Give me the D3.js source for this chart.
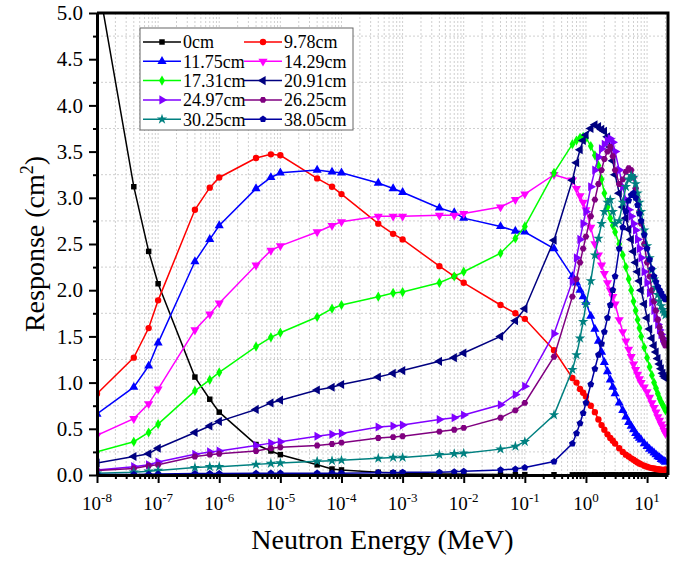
<!DOCTYPE html>
<html>
<head>
<meta charset="utf-8">
<script src="https://cdn.jsdelivr.net/npm/d3@7"></script>
</head>
<body style="margin:0;background:#fff">
<svg id="chart"></svg>
<script>
// energies (MeV) shared by every curve
const energy = [1e-8, 4e-8, 7e-8, 1e-7, 4e-7, 7e-7, 1e-6, 4e-6, 7e-6, 1e-5, 4e-5, 7e-5,
  1e-4, 4e-4, 7e-4, 1e-3, 4e-3, 7e-3, 1e-2, 4e-2, 7e-2, 1e-1, 0.3, 0.6,
  0.7, 0.8, 0.9, 1, 1.2, 1.4, 1.6, 1.8, 2, 2.25, 2.5, 2.75, 3, 3.5, 4, 4.5, 5, 5.5,
  6, 6.5, 7, 7.5, 8, 9, 10, 11, 12, 13, 14, 15, 16, 17, 18, 19, 20];

const r0cm = [5.4, 3.12, 2.42, 2.07, 1.06, 0.82, 0.68, 0.33, 0.26, 0.22, 0.11, 0.065,
  0.055, 0.03, 0.025, 0.02, 0.012, 0.01, 0.008, 0.005, 0.004, 0.004, 0.003, 0.002,
  0.002, 0.002, 0.002, 0.002, 0.002, 0.002, 0.002, 0.002, 0.002, 0.002, 0.002, 0.002,
  0.002, 0.002, 0.002, 0.002, 0.002, 0.002, 0.002, 0.002, 0.002, 0.002, 0.002, 0.002,
  0.002, 0.002, 0.002, 0.002, 0.002, 0.002, 0.002, 0.002, 0.002, 0.002, 0.002];
const r978 = [0.88, 1.27, 1.59, 1.89, 2.87, 3.11, 3.22, 3.43, 3.47, 3.46, 3.21, 3.12,
  3.04, 2.72, 2.61, 2.55, 2.26, 2.15, 2.08, 1.84, 1.75, 1.69, 1.35, 1.05,
  1.0, 0.93, 0.89, 0.85, 0.75, 0.68, 0.6, 0.54, 0.49, 0.44, 0.4, 0.37, 0.34, 0.29,
  0.25, 0.22, 0.2, 0.18, 0.165, 0.15, 0.135, 0.125, 0.115, 0.1, 0.09, 0.08, 0.075,
  0.07, 0.065, 0.062, 0.06, 0.058, 0.055, 0.055, 0.06];
const r1175 = [0.66, 0.95, 1.18, 1.43, 2.31, 2.55, 2.70, 3.10, 3.22, 3.27, 3.30, 3.28,
  3.27, 3.16, 3.10, 3.06, 2.89, 2.84, 2.78, 2.69, 2.64, 2.63, 2.45, 2.15,
  2.08, 2.0, 1.93, 1.87, 1.72, 1.58, 1.45, 1.33, 1.22, 1.12, 1.03, 0.95, 0.88, 0.78,
  0.7, 0.63, 0.57, 0.53, 0.49, 0.45, 0.42, 0.4, 0.38, 0.34, 0.31, 0.28, 0.26, 0.24,
  0.22, 0.2, 0.19, 0.17, 0.16, 0.15, 0.14];
const r1429 = [0.43, 0.61, 0.77, 0.93, 1.57, 1.74, 1.86, 2.27, 2.43, 2.48, 2.63, 2.70,
  2.74, 2.80, 2.80, 2.80, 2.81, 2.81, 2.83, 2.90, 2.98, 3.04, 3.25, 3.19,
  3.1, 3.02, 2.95, 2.87, 2.68, 2.5, 2.38, 2.27, 2.18, 2.08, 2.0, 1.93, 1.85, 1.68,
  1.55, 1.45, 1.36, 1.28, 1.2, 1.14, 1.09, 1.04, 1.0, 0.95, 0.9, 0.84, 0.78, 0.73,
  0.68, 0.63, 0.59, 0.55, 0.52, 0.48, 0.45];
const r1731 = [0.25, 0.36, 0.46, 0.55, 0.91, 1.03, 1.11, 1.39, 1.49, 1.54, 1.71, 1.80,
  1.84, 1.93, 1.97, 1.98, 2.08, 2.15, 2.20, 2.40, 2.56, 2.69, 3.27, 3.58,
  3.62, 3.65, 3.66, 3.65, 3.56, 3.46, 3.35, 3.2, 3.05, 2.9, 2.78, 2.7, 2.63, 2.5,
  2.38, 2.25, 2.12, 2.0, 1.88, 1.78, 1.68, 1.59, 1.5, 1.38, 1.27, 1.17, 1.08, 1.0,
  0.94, 0.88, 0.83, 0.79, 0.76, 0.73, 0.70];
const r2091 = [0.13, 0.2, 0.23, 0.29, 0.46, 0.53, 0.58, 0.71, 0.78, 0.81, 0.92, 0.95,
  0.98, 1.06, 1.10, 1.13, 1.23, 1.27, 1.32, 1.50, 1.67, 1.80, 2.54, 3.19,
  3.38, 3.52, 3.62, 3.68, 3.75, 3.79, 3.77, 3.74, 3.72, 3.66, 3.55, 3.4, 3.25, 3.05,
  2.9, 2.78, 2.66, 2.55, 2.42, 2.3, 2.2, 2.1, 2.0, 1.85, 1.7, 1.58, 1.48, 1.4,
  1.33, 1.26, 1.2, 1.15, 1.1, 1.07, 1.05];
const r2497 = [0.055, 0.09, 0.11, 0.14, 0.225, 0.25, 0.26, 0.32, 0.345, 0.36, 0.42, 0.44,
  0.45, 0.52, 0.53, 0.54, 0.60, 0.62, 0.65, 0.76, 0.87, 0.96, 1.53, 2.1,
  2.35, 2.55, 2.72, 2.85, 3.12, 3.3, 3.44, 3.53, 3.58, 3.62, 3.64, 3.6, 3.5, 3.3,
  3.12, 2.98, 2.87, 2.8, 2.72, 2.65, 2.55, 2.45, 2.35, 2.2, 2.08, 1.97, 1.87, 1.78,
  1.7, 1.63, 1.57, 1.52, 1.48, 1.45, 1.42];
const r2625 = [0.05, 0.07, 0.1, 0.11, 0.2, 0.22, 0.23, 0.26, 0.29, 0.30, 0.32, 0.335,
  0.35, 0.40, 0.41, 0.42, 0.47, 0.49, 0.51, 0.62, 0.70, 0.78, 1.28, 1.93,
  2.12, 2.3, 2.45, 2.58, 2.8, 2.98, 3.15, 3.3, 3.42, 3.5, 3.55, 3.45, 3.3, 3.15,
  3.2, 3.28, 3.32, 3.3, 3.22, 3.1, 2.98, 2.85, 2.72, 2.5, 2.3, 2.15, 2.0, 1.88,
  1.78, 1.68, 1.6, 1.53, 1.48, 1.43, 1.4];
const r3025 = [0.02, 0.03, 0.04, 0.05, 0.08, 0.09, 0.09, 0.115, 0.125, 0.13, 0.15, 0.155,
  0.16, 0.18, 0.19, 0.19, 0.22, 0.23, 0.235, 0.28, 0.31, 0.36, 0.65, 1.14,
  1.3, 1.48, 1.66, 1.85, 2.1, 2.38, 2.56, 2.72, 2.85, 2.95, 2.98, 2.85, 2.72, 2.75,
  2.95, 3.12, 3.2, 3.24, 3.22, 3.15, 3.05, 2.95, 2.85, 2.65, 2.48, 2.35, 2.22, 2.12,
  2.03, 1.95, 1.88, 1.83, 1.79, 1.76, 1.73];
const r3805 = [0.005, 0.006, 0.008, 0.01, 0.015, 0.015, 0.015, 0.018, 0.02, 0.02, 0.02, 0.02,
  0.02, 0.025, 0.025, 0.03, 0.03, 0.035, 0.04, 0.055, 0.065, 0.08, 0.145, 0.34,
  0.45, 0.56, 0.67, 0.78, 0.98, 1.15, 1.3, 1.42, 1.55, 1.7, 1.84, 2.0, 2.15, 2.45,
  2.68, 2.85, 2.97, 3.03, 3.05, 3.0, 2.92, 2.83, 2.75, 2.6, 2.45, 2.33, 2.23, 2.15,
  2.09, 2.04, 2.0, 1.97, 1.94, 1.92, 1.9];

const names = ["0cm", "9.78cm", "11.75cm", "14.29cm", "17.31cm", "20.91cm",
  "24.97cm", "26.25cm", "30.25cm", "38.05cm"];
const values = [r0cm, r978, r1175, r1429, r1731, r2091, r2497, r2625, r3025, r3805];

const yTicks = [0, 0.5, 1, 1.5, 2, 2.5, 3, 3.5, 4, 4.5, 5];
const xDecades = [-8, -7, -6, -5, -4, -3, -2, -1, 0, 1];

const colors = ["#000000", "#ff0000", "#0000ff", "#ff00ff", "#00ff00", "#000080",
  "#8000ff", "#800080", "#008080", "#0000a0"];
const markers = ["square", "circle", "up", "down", "diamond", "left", "right", "hexagon", "star", "pentagon"];

const font = "Liberation Serif";
const width = 678, height = 562;
const margin = {left: 97, right: 10, top: 13, bottom: 87};

const svg = d3.select("#chart").attr("width", width).attr("height", height);

const x = d3.scaleLog().domain([1e-8, 22]).range([margin.left, width - margin.right]);
const y = d3.scaleLinear().domain([0, 5]).range([height - margin.bottom, margin.top]);

function polygon(n, r, rot) {
  let pts = [];
  for (let i = 0; i < n; i++) {
    let a = rot + i * 2 * Math.PI / n;
    pts.push([r * Math.cos(a), r * Math.sin(a)]);
  }
  return "M" + pts.map(p => p.join(",")).join("L") + "Z";
}

function markerPath(m) {
  if (m == "square") return d3.symbol(d3.symbolSquare, 30)();
  if (m == "circle") return d3.symbol(d3.symbolCircle, 32)();
  if (m == "diamond") return d3.symbol(d3.symbolDiamond, 30)();
  if (m == "star") return d3.symbol(d3.symbolStar, 34)();
  if (m == "hexagon") return polygon(6, 3.4, 0);
  if (m == "pentagon") return polygon(5, 3.6, -Math.PI / 2);
  return d3.symbol(d3.symbolTriangle, 36)();
}
function markerRotate(m) {
  return {down: 180, left: -90, right: 90}[m] || 0;
}

// grid
const minorX = [];
xDecades.forEach(d => {
  for (let k = 1; k < 10; k++) {
    let v = k * Math.pow(10, d);
    if (v <= 22) minorX.push(v);
  }
});
const gridY = [0.25, 0.75, 1.25, 1.75, 2.25, 2.75, 3.25, 3.75, 4.25, 4.75];

svg.append("g").selectAll("line")
  .data(minorX.slice(1))
  .enter().append("line")
  .attr("x1", d => x(d)).attr("x2", d => x(d))
  .attr("y1", y(0)).attr("y2", y(5))
  .attr("stroke", "#cfcfcf").attr("stroke-width", 1)
  .attr("stroke-dasharray", "2,2");

svg.append("g").selectAll("line")
  .data(gridY)
  .enter().append("line")
  .attr("x1", x(1e-8)).attr("x2", x(22))
  .attr("y1", d => y(d)).attr("y2", d => y(d))
  .attr("stroke", "#cfcfcf").attr("stroke-width", 1)
  .attr("stroke-dasharray", "2,2");

// curves
svg.append("clipPath").attr("id", "clip")
  .append("rect")
  .attr("x", margin.left).attr("y", margin.top)
  .attr("width", width - margin.left - margin.right)
  .attr("height", height - margin.top - margin.bottom);

const line = d3.line()
  .x(d => x(d[0]))
  .y(d => y(d[1]));

const plot = svg.append("g").attr("clip-path", "url(#clip)");

values.forEach((vals, i) => {
  let pts = energy.map((e, j) => [e, vals[j]]);
  let g = plot.append("g");
  g.append("path")
    .datum(pts)
    .attr("d", line)
    .attr("fill", "none")
    .attr("stroke", colors[i])
    .attr("stroke-width", 1.5);
  g.selectAll("path.pt")
    .data(pts)
    .enter().append("path")
    .attr("class", "pt")
    .attr("d", markerPath(markers[i]))
    .attr("transform", d => `translate(${x(d[0])},${y(d[1])}) rotate(${markerRotate(markers[i])})`)
    .attr("fill", colors[i]);
});

// axes
svg.append("g")
  .attr("transform", `translate(0,${y(0)})`)
  .call(d3.axisBottom(x).tickValues(xDecades.map(d => Math.pow(10, d)))
    .tickSize(8).tickSizeOuter(0).tickFormat(""));
svg.append("g")
  .attr("transform", `translate(0,${y(0)})`)
  .call(d3.axisBottom(x).tickValues(minorX.filter(v => !xDecades.some(d => Math.abs(Math.log10(v) - d) < 1e-9)))
    .tickSize(4).tickSizeOuter(0).tickFormat(""))
  .select(".domain").remove();

const yAxis = svg.append("g")
  .attr("transform", `translate(${x(1e-8)},0)`)
  .call(d3.axisLeft(y).tickValues(yTicks).tickSize(8).tickSizeOuter(0).tickFormat(d3.format(".1f")));
svg.append("g")
  .attr("transform", `translate(${x(1e-8)},0)`)
  .call(d3.axisLeft(y).tickValues(gridY).tickSize(4).tickSizeOuter(0).tickFormat(""))
  .select(".domain").remove();

svg.selectAll(".tick line").attr("stroke", "#000").attr("stroke-width", 2);
svg.selectAll(".domain").attr("stroke", "#000").attr("stroke-width", 3);

yAxis.attr("font-family", font);
yAxis.selectAll(".tick text")
  .attr("x", -14)
  .attr("fill", "#000")
  .style("font-family", font)
  .style("font-size", "21px");

// x tick labels with superscript exponents
const xl = svg.append("g").selectAll("text")
  .data(xDecades)
  .enter().append("text")
  .attr("x", d => x(Math.pow(10, d)))
  .attr("y", 510)
  .attr("text-anchor", "middle")
  .style("font-family", font)
  .style("font-size", "19px");
xl.append("tspan").text("10");
xl.append("tspan").attr("dy", -8).style("font-size", "13px").text(d => d);

// frame top/right
svg.append("path")
  .attr("d", `M${x(1e-8)},${y(5)}H${x(22)}V${y(0)}`)
  .attr("fill", "none").attr("stroke", "#000").attr("stroke-width", 3);

// titles
svg.append("text")
  .attr("x", (x(1e-8) + x(22)) / 2)
  .attr("y", 549)
  .attr("text-anchor", "middle")
  .style("font-family", font)
  .style("font-size", "28px")
  .text("Neutron Energy (MeV)");

const yt = svg.append("text")
  .attr("transform", `translate(44,${(y(0) + y(5)) / 2}) rotate(-90)`)
  .attr("text-anchor", "middle")
  .style("font-family", font)
  .style("font-size", "28px");
yt.append("tspan").text("Response (cm");
yt.append("tspan").attr("dy", -11).style("font-size", "18px").text("2");
yt.append("tspan").attr("dy", 11).text(")");

// legend
const legend = svg.append("g");
legend.append("rect")
  .attr("x", 140).attr("y", 28).attr("width", 213).attr("height", 102)
  .attr("fill", "#fff").attr("stroke", "#666").attr("stroke-width", 1);

const item = legend.selectAll("g.item")
  .data(names)
  .enter().append("g")
  .attr("class", "item")
  .attr("transform", (d, i) => `translate(${i % 2 ? 244 : 143},${42 + Math.floor(i / 2) * 19.3})`);

item.append("line")
  .attr("x1", 0).attr("x2", 38)
  .attr("stroke", (d, i) => colors[i]).attr("stroke-width", 1.5);
item.append("path")
  .attr("d", (d, i) => markerPath(markers[i]))
  .attr("transform", (d, i) => `translate(19,0) rotate(${markerRotate(markers[i])})`)
  .attr("fill", (d, i) => colors[i]);
item.append("text")
  .attr("x", 40).attr("dy", "0.35em")
  .style("font-family", font)
  .style("font-size", "18px")
  .text(d => d);
</script>
</body>
</html>
